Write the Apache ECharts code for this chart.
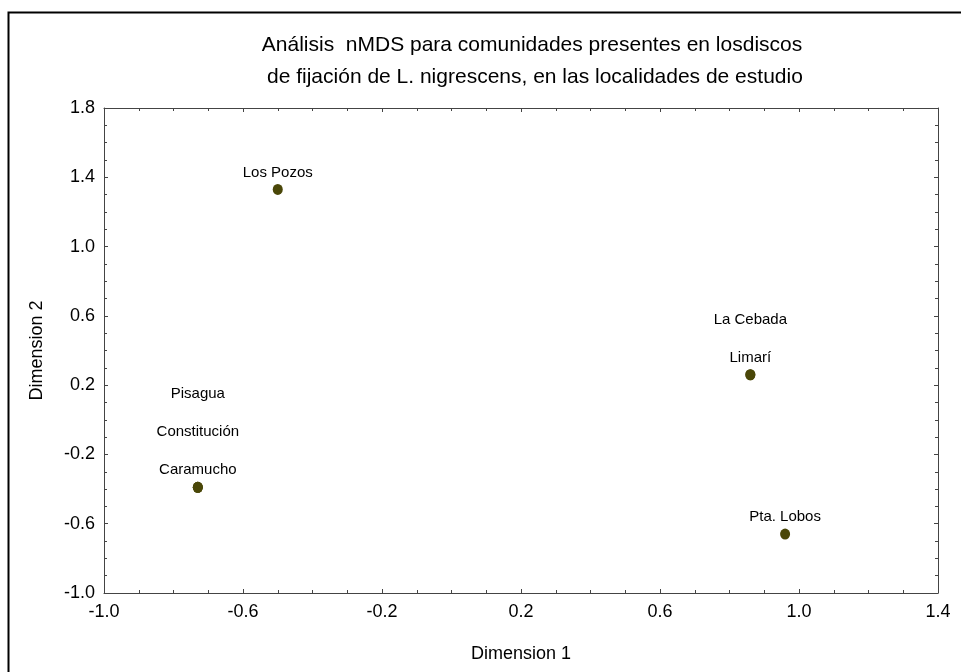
<!DOCTYPE html>
<html>
<head>
<meta charset="utf-8">
<script src="https://cdn.jsdelivr.net/npm/echarts@6/dist/echarts.min.js"></script>
<style>html,body{margin:0;padding:0;background:#fff}#c{width:961px;height:672px}</style>
</head>
<body>
<div id="c"></div>
<script>
var titleLines = ['Análisis  nMDS para comunidades presentes en losdiscos', ' de fijación de L. nigrescens, en las localidades de estudio'];
var sites = ['Los Pozos', 'Pisagua', 'Constitución', 'Caramucho', 'La Cebada', 'Limarí', 'Pta. Lobos'];
var dim1 = [-0.50, -0.73, -0.73, -0.73, 0.86, 0.86, 0.96];
var dim2 = [1.33, -0.39, -0.39, -0.39, 0.26, 0.26, -0.66];
var xTicks = [-1.0, -0.6, -0.2, 0.2, 0.6, 1.0, 1.4];
var yTicks = [-1.0, -0.6, -0.2, 0.2, 0.6, 1.0, 1.4, 1.8];
var xName = 'Dimension 1';
var yName = 'Dimension 2';

var FONT = 'Liberation Sans, Arial, sans-serif';
var data = sites.map(function (s, i) {
  var k = 0;
  for (var j = i + 1; j < sites.length; j++) {
    if (dim1[j] === dim1[i] && dim2[j] === dim2[i]) k++;
  }
  return {
    name: s,
    value: [dim1[i], dim2[i]],
    label: { offset: [0, -38 * k] }
  };
});

var chart = echarts.init(document.getElementById('c'));
var axisCommon = {
  type: 'value',
  interval: 0.4,
  axisLine: { show: true, onZero: false, lineStyle: { color: '#444', width: 1 } },
  axisTick: { show: true, inside: true, length: 4, lineStyle: { color: '#444' } },
  minorTick: { show: true, splitNumber: 4, length: 3, lineStyle: { color: '#444' } },
  splitLine: { show: false },
  minorSplitLine: { show: false }
};
function fmt(v) { return v.toFixed(1); }
chart.setOption({
  animation: false,
  backgroundColor: '#fff',
  title: {
    text: titleLines.join('\n'),
    left: 527, top: 24, textAlign: 'center',
    textStyle: { fontFamily: FONT, fontSize: 21, fontWeight: 'normal', color: '#000', lineHeight: 32 }
  },
  grid: { left: 104, right: 23, top: 108, bottom: 79 },
  graphic: [{
    type: 'rect', left: 6, top: 10,
    shape: { width: 1000, height: 700 },
    style: { fill: 'none', stroke: '#000', lineWidth: 2 },
    silent: true
  }],
  xAxis: [
    Object.assign({}, axisCommon, {
      position: 'bottom', min: xTicks[0], max: xTicks[xTicks.length - 1],
      name: xName, nameLocation: 'middle', nameGap: 52,
      nameTextStyle: { fontFamily: FONT, fontSize: 18, color: '#000' },
      axisLabel: { formatter: fmt, margin: 10, fontFamily: FONT, fontSize: 18, color: '#000' }
    }),
    Object.assign({}, axisCommon, {
      position: 'top', min: xTicks[0], max: xTicks[xTicks.length - 1],
      axisLabel: { show: false }
    })
  ],
  yAxis: [
    Object.assign({}, axisCommon, {
      position: 'left', min: yTicks[0], max: yTicks[yTicks.length - 1],
      name: yName, nameLocation: 'middle', nameGap: 58,
      nameTextStyle: { fontFamily: FONT, fontSize: 18, color: '#000' },
      axisLabel: { formatter: fmt, margin: 9, fontFamily: FONT, fontSize: 18, color: '#000' }
    }),
    Object.assign({}, axisCommon, {
      position: 'right', min: yTicks[0], max: yTicks[yTicks.length - 1],
      axisLabel: { show: false }
    })
  ],
  series: [{
    type: 'scatter',
    xAxisIndex: 0, yAxisIndex: 0,
    symbol: 'circle',
    symbolSize: [10, 11],
    itemStyle: { color: '#4a4708', opacity: 1 },
    label: {
      show: true, position: 'top', distance: 4,
      formatter: '{b}',
      fontFamily: FONT, fontSize: 15, color: '#000'
    },
    data: data
  }]
});
</script>
</body>
</html>
